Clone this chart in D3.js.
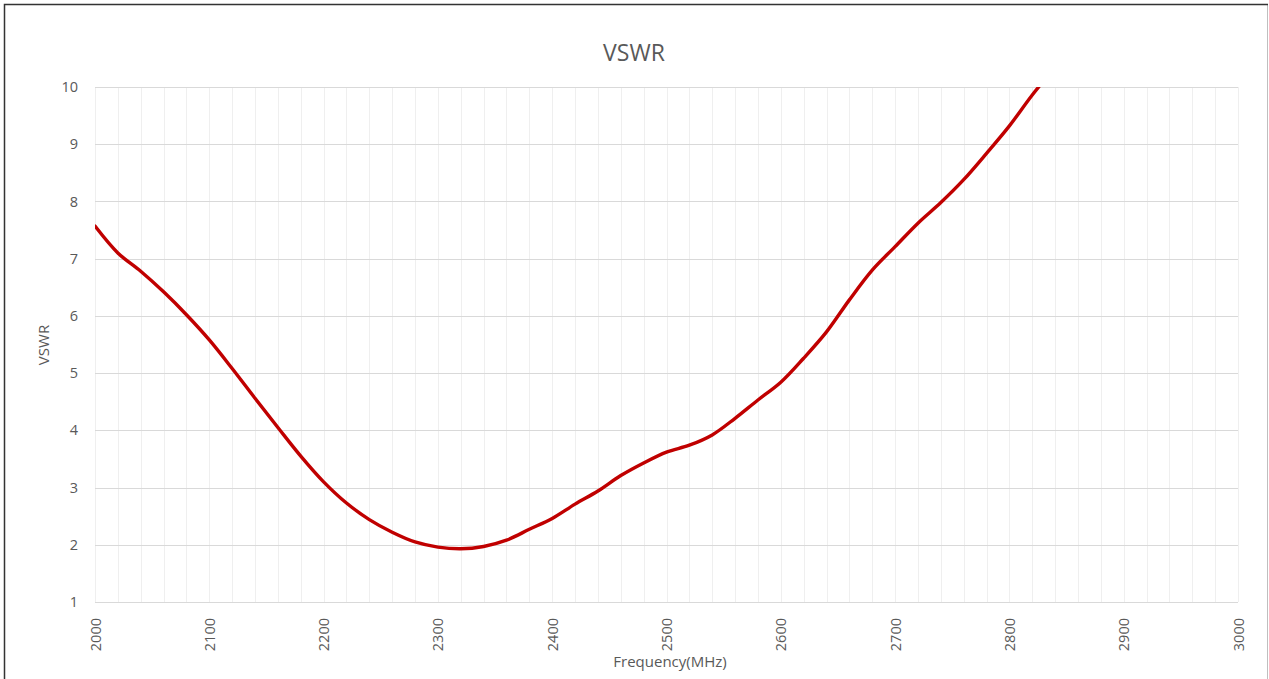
<!DOCTYPE html>
<html>
<head>
<meta charset="utf-8">
<script src="https://cdn.jsdelivr.net/npm/d3@7"></script>
<style>
  body { margin: 0; background: #fff; }
  text { font-family: "Open Sans", Lato, sans-serif; fill: #595959; }
</style>
</head>
<body>
<script>
/* global d3 */

// data (MHz, VSWR)
const freqs = [
  2000, 2020, 2040, 2060, 2080, 2100, 2120, 2140, 2160, 2180,
  2200, 2220, 2240, 2260, 2280, 2300, 2320, 2340, 2360, 2380,
  2400, 2420, 2440, 2460, 2480, 2500, 2520, 2540, 2560, 2580,
  2600, 2620, 2640, 2660, 2680, 2700, 2720, 2740, 2760, 2780,
  2800, 2820, 2840
]
const vswr = [
  7.57, 7.10, 6.78, 6.42, 6.02, 5.58, 5.08, 4.56, 4.05, 3.55,
  3.10, 2.73, 2.44, 2.22, 2.05, 1.96, 1.93, 1.97, 2.08, 2.27,
  2.46, 2.71, 2.94, 3.21, 3.43, 3.62, 3.74, 3.92, 4.21, 4.53,
  4.84, 5.26, 5.72, 6.28, 6.80, 7.21, 7.62, 7.98, 8.38, 8.84,
  9.32, 9.86, 10.35
]
const xTicks = [2000, 2100, 2200, 2300, 2400, 2500, 2600, 2700, 2800, 2900, 3000]
const yTicks = [1, 2, 3, 4, 5, 6, 7, 8, 9, 10]

const title = "VSWR"
const xTitle = "Frequency(MHz)"
const yTitle = "VSWR"

const W = 1269, H = 679
const margin = {top: 87, right: 31, bottom: 77, left: 95}
const width = W - margin.left - margin.right
const height = H - margin.top - margin.bottom

const data = freqs.map((f, i) => ({x: f, y: vswr[i]}))

const svg = d3.select("body").append("svg")
  .attr("width", W)
  .attr("height", H)

// chart frame
svg.append("rect")
  .attr("x", 0).attr("y", 0)
  .attr("width", W).attr("height", H)
  .attr("fill", "#fff")
svg.append("line")
  .attr("x1", 1267.5).attr("x2", 1267.5)
  .attr("y1", 4).attr("y2", H)
  .attr("stroke", "#bfbfbf")
svg.append("path")
  .attr("d", `M4.5,${H} V4.5 H1268`)
  .attr("fill", "none")
  .attr("stroke", "#333")
  .attr("stroke-width", 1.5)

const g = svg.append("g")
  .attr("transform", "translate(" + margin.left + "," + margin.top + ")")

const x = d3.scaleLinear()
  .domain([2000, 3000])
  .range([0, width])

const y = d3.scaleLinear()
  .domain([1, 10])
  .range([height, 0])

// vertical minor grid every 20 MHz
g.append("g")
  .attr("class", "grid x")
  .selectAll("line")
  .data(d3.range(2000, 3001, 20))
  .enter().append("line")
    .attr("x1", d => Math.round(x(d)) + 0.5)
    .attr("x2", d => Math.round(x(d)) + 0.5)
    .attr("y1", 0)
    .attr("y2", height)
    .attr("stroke", "#efefef")

// horizontal major grid
g.append("g")
  .attr("class", "grid y")
  .selectAll("line")
  .data(yTicks)
  .enter().append("line")
    .attr("x1", 0)
    .attr("x2", width)
    .attr("y1", d => Math.round(y(d)) + 0.5)
    .attr("y2", d => Math.round(y(d)) + 0.5)
    .attr("stroke", "#d9d9d9")

const yAxis = d3.axisLeft(y)
  .tickValues(yTicks)
  .tickSize(0)
  .tickPadding(17)

g.append("g")
  .attr("class", "y axis")
  .call(yAxis)
  .call(a => a.select(".domain").remove())
  .selectAll("text")
    .attr("font-size", 14.5)
    .attr("fill", "#595959")

const xAxis = d3.axisBottom(x)
  .tickValues(xTicks)
  .tickSize(0)
  .tickFormat(d3.format("d"))

g.append("g")
  .attr("class", "x axis")
  .attr("transform", "translate(0," + height + ")")
  .call(xAxis)
  .call(a => a.select(".domain").remove())
  .selectAll("text")
    .attr("font-size", 14.5)
    .attr("fill", "#595959")
    .attr("text-anchor", "end")
    .attr("dy", "0.35em")
    .attr("transform", "translate(0,16) rotate(-90)")
    .attr("y", 0)
    .attr("x", 0)

g.selectAll(".axis text").attr("font-family", "'Open Sans', Lato, sans-serif")

// curve, clipped to the plot area
g.append("clipPath")
  .attr("id", "plot-clip")
  .append("rect")
    .attr("x", 0).attr("y", 0)
    .attr("width", width).attr("height", height)

const line = d3.line()
  .x(d => x(d.x))
  .y(d => y(d.y))
  .curve(d3.curveCatmullRom.alpha(0.5))

g.append("path")
  .datum(data)
  .attr("clip-path", "url(#plot-clip)")
  .attr("fill", "none")
  .attr("stroke", "#c00000")
  .attr("stroke-width", 3.4)
  .attr("stroke-linejoin", "round")
  .attr("stroke-linecap", "round")
  .attr("d", line)

// titles
svg.append("text")
  .attr("x", 634)
  .attr("y", 61)
  .attr("text-anchor", "middle")
  .attr("font-size", 23)
  .text(title)

svg.append("text")
  .attr("x", 670)
  .attr("y", 667)
  .attr("text-anchor", "middle")
  .attr("font-size", 15)
  .text(xTitle)

svg.append("text")
  .attr("transform", "translate(49,345) rotate(-90)")
  .attr("text-anchor", "middle")
  .attr("font-size", 15)
  .text(yTitle)
</script>
</body>
</html>
